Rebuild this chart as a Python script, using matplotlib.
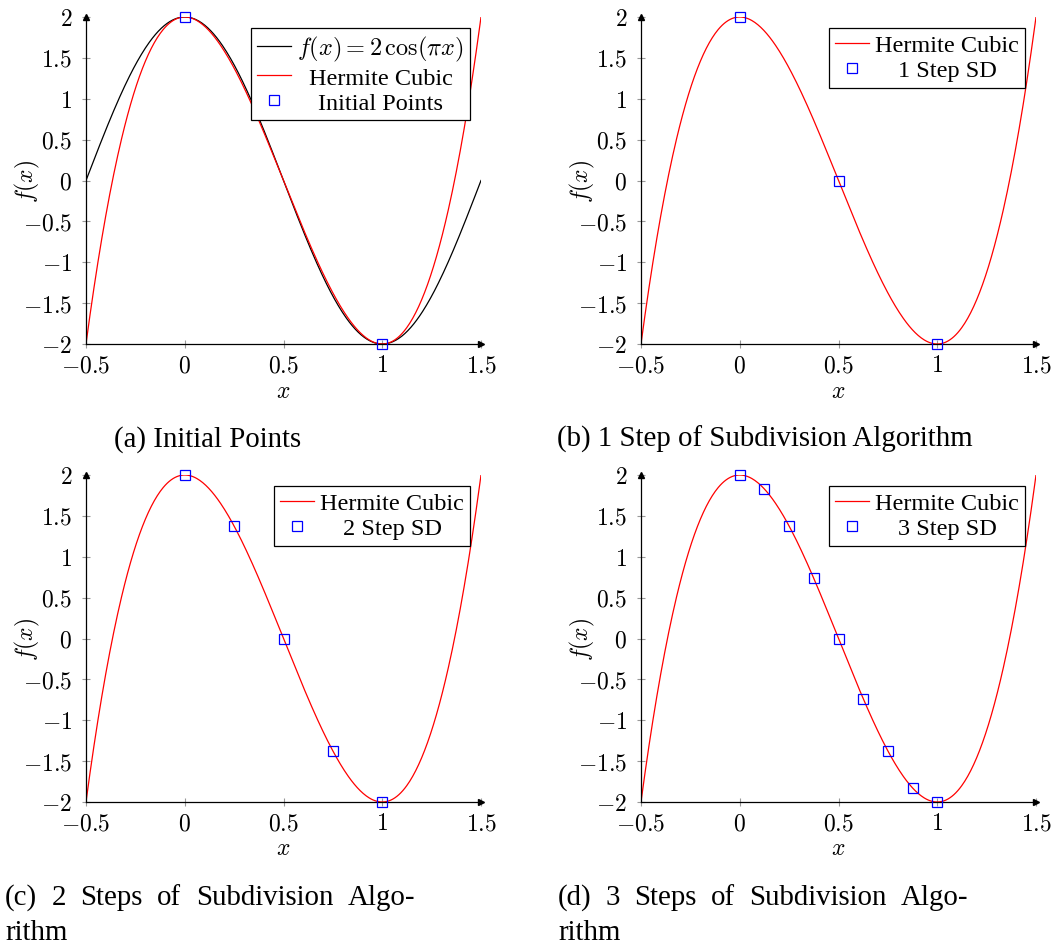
import numpy as np
import matplotlib.pyplot as plt

plt.rcParams['mathtext.fontset'] = 'cm'
plt.rcParams['font.family'] = ['Liberation Serif', 'DejaVu Serif']

# Hermite cubic through (0, 2), (1, -2) with zero slopes: 8x^3 - 12x^2 + 2
hermite_coeffs = [8, -12, 0, 2]
cos_amplitude = 2

x_ticks = [-0.5, 0, 0.5, 1, 1.5]
y_ticks = [-2, -1.5, -1, -0.5, 0, 0.5, 1, 1.5, 2]

pts_a_x = [0, 1]
pts_a_y = [2, -2]
pts_b_x = [0, 0.5, 1]
pts_b_y = [2, 0, -2]
pts_c_x = [0, 0.25, 0.5, 0.75, 1]
pts_c_y = [2, 1.375, 0, -1.375, -2]
pts_d_x = [0, 0.125, 0.25, 0.375, 0.5, 0.625, 0.75, 0.875, 1]
pts_d_y = [2, 1.828, 1.375, 0.734, 0, -0.734, -1.375, -1.828, -2]

labels = ['Initial Points', '1 Step SD', '2 Step SD', '3 Step SD']
cap_a = '(a) Initial Points'
cap_b = '(b) 1 Step of Subdivision Algorithm'
cap_c = ['(c) 2 Steps of Subdivision Algo-', 'rithm']
cap_d = ['(d) 3 Steps of Subdivision Algo-', 'rithm']

W, H = 1054, 945
CAP_SIZE = 20.8


def tick_text(v):
    return '$%g$' % v


def setup_axes(ax):
    ax.set_xlim(-0.5, 1.5)
    ax.set_ylim(-2, 2)
    for side in ['top', 'right']:
        ax.spines[side].set_visible(False)
    for side in ['left', 'bottom']:
        ax.spines[side].set_linewidth(0.9)
    ax.set_xticks(x_ticks)
    ax.set_xticklabels([tick_text(v) for v in x_ticks])
    ax.set_yticks(y_ticks)
    ax.set_yticklabels([tick_text(v) for v in y_ticks])
    ax.tick_params(direction='inout', length=6, width=0.8, color='#999999',
                   labelsize=17)
    ax.tick_params(axis='x', pad=5)
    ax.tick_params(axis='y', pad=7)
    ax.set_xlabel('$x$', fontsize=17, va='center')
    ax.set_ylabel('$f(x)$', fontsize=17, va='center', ha='center')
    ax.xaxis.set_label_coords(0.5, -47 / 327)
    ax.yaxis.set_label_coords(-59 / 395, 0.5)
    # arrow heads at the ends of the axis lines
    ax.plot(1, 0, marker='>', color='k', ms=4, transform=ax.transAxes, clip_on=False)
    ax.plot(0, 1, marker='^', color='k', ms=4, transform=ax.transAxes, clip_on=False)


def justified_line(fig, renderer, text, x0, x1, y):
    # spread the words of one caption line evenly between x0 and x1 (pixels)
    words = text.split()
    arts = [fig.text(0, 1 - y / H, w, fontsize=CAP_SIZE, ha='left', va='baseline')
            for w in words]
    widths = [a.get_window_extent(renderer).width for a in arts]
    gap = (x1 - x0 - sum(widths)) / (len(words) - 1)
    x = x0
    for a, w in zip(arts, widths):
        a.set_x(x / W)
        x += w + gap


fig = plt.figure(figsize=(10.54, 9.45), dpi=100)
boxes = [(86, 18), (641, 18), (86, 476), (641, 476)]
axw, axh = 395, 327

xs = np.linspace(-0.5, 1.5, 400)
pts = [(pts_a_x, pts_a_y), (pts_b_x, pts_b_y), (pts_c_x, pts_c_y), (pts_d_x, pts_d_y)]

legends = []
for i, (left, top) in enumerate(boxes):
    ax = fig.add_axes([left / W, (H - top - axh) / H, axw / W, axh / H])
    setup_axes(ax)
    if i == 0:
        ax.plot(xs, cos_amplitude * np.cos(np.pi * xs), color='k', lw=0.9,
                label=r'$f(x) = 2\,\cos(\pi x)$')
    ax.plot(xs, np.polyval(hermite_coeffs, xs), color='red', lw=0.9, label='Hermite Cubic')
    px, py = pts[i]
    ax.plot(px, py, ls='none', marker='s', ms=7, mfc='none', mec='blue', mew=0.9,
            label=labels[i], clip_on=False, zorder=5)
    leg = ax.legend(loc='upper right', fontsize=17.5, fancybox=False, framealpha=1,
                    edgecolor='k', borderaxespad=0.45, handlelength=1.4,
                    handletextpad=0.25, borderpad=0.25, labelspacing=0.14)
    leg.get_frame().set_linewidth(0.9)
    legends.append(leg)

renderer = fig.canvas.get_renderer()

# centre the legend entries within their column
for leg in legends:
    texts = leg.get_texts()
    ws = [t.get_window_extent(renderer).width for t in texts]
    for t, w in zip(texts, ws):
        t.set_x((max(ws) - w) / 2)

fig.text(208 / W, 1 - 447 / H, cap_a, fontsize=CAP_SIZE, ha='center', va='baseline')
fig.text(765 / W, 1 - 447 / H, cap_b, fontsize=CAP_SIZE, ha='center', va='baseline')
justified_line(fig, renderer, cap_c[0], 5, 415, 905)
fig.text(5 / W, 1 - 940 / H, cap_c[1], fontsize=CAP_SIZE, ha='left', va='baseline')
justified_line(fig, renderer, cap_d[0], 558, 968, 905)
fig.text(558 / W, 1 - 940 / H, cap_d[1], fontsize=CAP_SIZE, ha='left', va='baseline')

fig.savefig('out.png', dpi=100)
